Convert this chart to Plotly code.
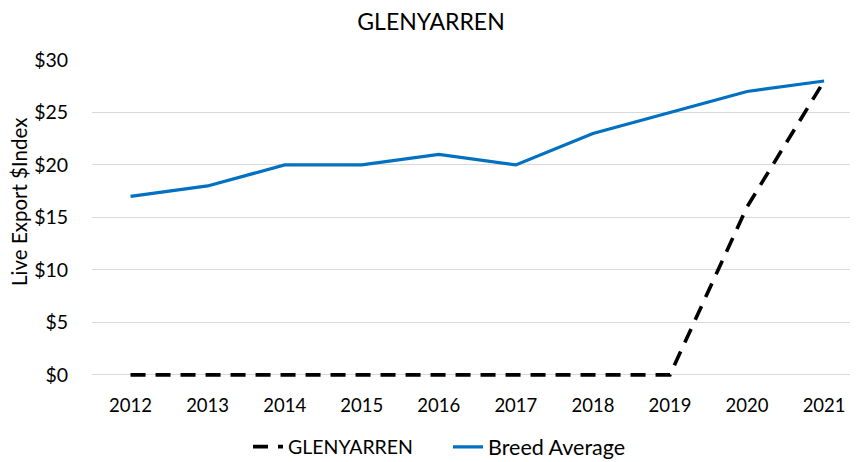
import plotly.graph_objects as go

years = ["2012", "2013", "2014", "2015", "2016", "2017", "2018", "2019", "2020", "2021"]
glenyarren = [0, 0, 0, 0, 0, 0, 0, 0, 16, 28]
breed_avg = [17, 18, 20, 20, 21, 20, 23, 25, 27, 28]
y_ticks = [0, 5, 10, 15, 20, 25, 30]
y_tick_labels = ["$" + str(v) for v in y_ticks]

FONT = "Lato"

fig = go.Figure()
fig.add_trace(go.Scatter(
    x=years, y=glenyarren, mode="lines", name="GLENYARREN",
    line=dict(color="black", width=3.6, dash="15px,10px"), legend="legend",
))
fig.add_trace(go.Scatter(
    x=years, y=breed_avg, mode="lines", name="Breed Average",
    line=dict(color="#0070C0", width=3.2), legend="legend2",
))

fig.update_layout(
    width=858, height=462,
    paper_bgcolor="white", plot_bgcolor="white",
    margin=dict(l=84, r=8, t=52, b=91.85),
    title=dict(text="GLENYARREN", x=0.493, xanchor="center", y=0.9697, yanchor="middle",
               font=dict(family=FONT, size=23, color="black")),
    font=dict(family=FONT, color="black"),
    xaxis=dict(
        type="category", range=[-0.5, 9.44], showgrid=False, zeroline=False,
        showline=False, ticks="outside", ticklen=11, tickcolor="white",
        tickfont=dict(size=18.5, color="black"), automargin=False,
    ),
    yaxis=dict(
        range=[-0.3, 30], tickvals=y_ticks, ticktext=y_tick_labels,
        showgrid=True, gridcolor="#D9D9D9", gridwidth=1.3, zeroline=False,
        showline=False, ticks="outside", ticklen=19, tickcolor="white",
        tickfont=dict(size=19.5, color="black"), automargin=False,
    ),
    legend=dict(orientation="h", xref="container", yref="container",
                x=0.2797, xanchor="left", y=0.0498, yanchor="middle",
                font=dict(size=19.5, color="black"), bgcolor="rgba(0,0,0,0)"),
    legend2=dict(orientation="h", xref="container", yref="container",
                 x=0.5128, xanchor="left", y=0.0498, yanchor="middle",
                 font=dict(size=21.5, color="black"), bgcolor="rgba(0,0,0,0)"),
    annotations=[dict(
        text="Live Export $Index", xref="paper", yref="paper", x=-0.0953, y=0.5537,
        xanchor="center", yanchor="middle", textangle=-90, showarrow=False,
        font=dict(family=FONT, size=20.5, color="black"),
    )],
    showlegend=True,
)

fig.write_html("out.html")
